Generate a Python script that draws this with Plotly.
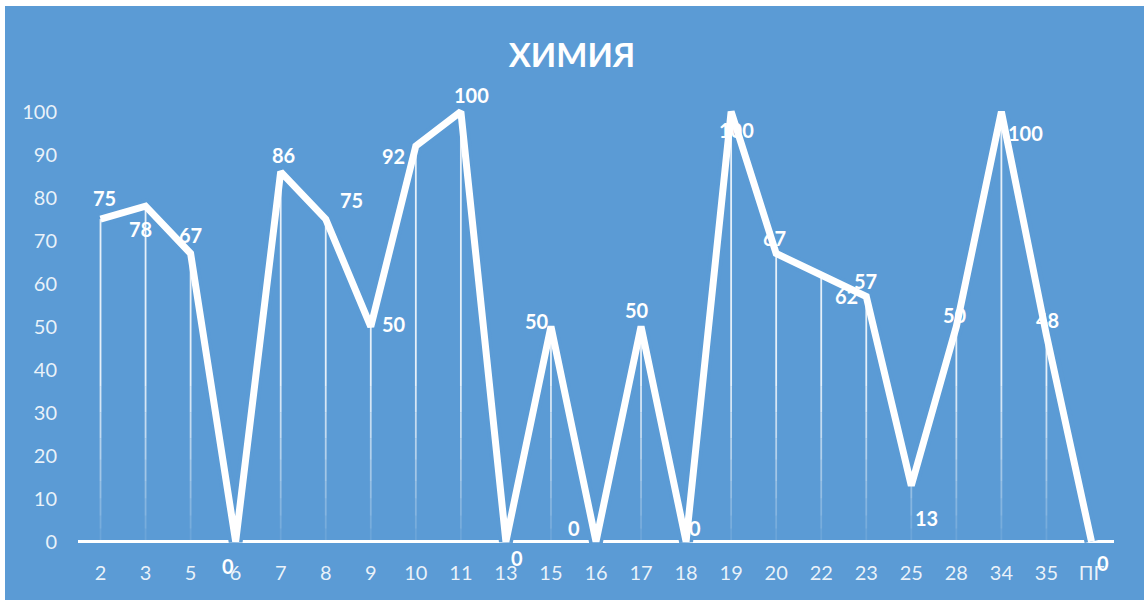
import plotly.graph_objects as go

categories = ["2", "3", "5", "6", "7", "8", "9", "10", "11", "13", "15", "16",
              "17", "18", "19", "20", "22", "23", "25", "28", "34", "35", "ПГ"]
values = [75, 78, 67, 0, 86, 75, 50, 92, 100, 0, 50, 0,
          50, 0, 100, 67, 62, 57, 13, 50, 100, 48, 0]
title_text = "ХИМИЯ"

# data-label nudges in pixels relative to each point (style only; + right, + down)
label_dx = [3.5, -5.5, 0, -8, 2.5, 25.5, 23, -22, 11, 11, -14, -22,
            -4, 9, 5, -2, 25, -1, 15, -1, 24.5, 1, 12]
label_dy = [-20, 23.5, -17, 25, -16, -18, -2, 11, -16, 17.5, -4.5, -12.5,
            -15.5, -12.5, 19, -14.5, 22, -14, 33.5, -10.5, 22, -14, 22]

BG = "#5B9BD5"
FONT = "Lato, 'Open Sans', sans-serif"

W, H = 1144, 600
ML, MR, MT, MB = 78, 30, 103, 52
pw, ph = W - ML - MR, H - MT - MB


def px_x(p):
    return (p - ML) / pw


def px_y(p):
    return (H - MB - p) / ph


x_idx = list(range(len(categories)))

fig = go.Figure()

# blue outline under the main line (hides axis near the line, like the original)
fig.add_trace(go.Scatter(
    x=x_idx, y=values, mode="lines",
    line=dict(color=BG, width=14), hoverinfo="skip", showlegend=False,
))

# drop lines via error bars, fading smoothly towards the axis
fade_bands = [(36, 200, 0.85), (30, 36, 0.75), (24, 30, 0.64), (19, 24, 0.54),
              (14, 19, 0.44), (10, 14, 0.35), (6, 10, 0.26), (3, 6, 0.18), (0, 3, 0.1)]
for lo, hi, op in fade_bands:
    tops = [min(v, hi) for v in values]
    lens = [max(t - lo, 0) for t in tops]
    fig.add_trace(go.Scatter(
        x=x_idx, y=tops, mode="markers",
        marker=dict(size=1, color="rgba(0,0,0,0)"),
        error_y=dict(type="data", symmetric=False,
                     array=[0] * len(values), arrayminus=lens,
                     color=f"rgba(255,255,255,{op})", thickness=1.8, width=0),
        hoverinfo="skip", showlegend=False,
    ))

# main line
fig.add_trace(go.Scatter(
    x=x_idx, y=values, mode="lines",
    line=dict(color="white", width=7),
    hoverinfo="skip", showlegend=False,
))

annotations = []
for i, v in enumerate(values):
    annotations.append(dict(
        x=i, y=v, xref="x", yref="y", text=str(v), showarrow=False,
        xanchor="center", yanchor="middle",
        xshift=label_dx[i], yshift=-label_dy[i] + 1,
        font=dict(family=FONT, size=20, color="white", weight="bold"),
    ))

fig.update_layout(
    width=W, height=H,
    margin=dict(l=ML, r=MR, t=MT, b=MB, pad=0),
    paper_bgcolor="white",
    plot_bgcolor="rgba(0,0,0,0)",
    showlegend=False,
    title=dict(text=title_text, x=0.5, xanchor="center", y=1 - 55 / H, yanchor="middle",
               xref="container",
               font=dict(family=FONT, size=33, color="white", weight="bold")),
    shapes=[dict(type="rect", xref="paper", yref="paper",
                 x0=px_x(5), x1=px_x(1150), y0=px_y(610), y1=px_y(6),
                 fillcolor=BG, line=dict(width=0), layer="below")],
    annotations=annotations,
)

tick_font = dict(family=FONT, size=20, color="rgba(255,255,255,0.88)")
fig.update_xaxes(
    range=[-0.5, len(categories) - 0.5],
    tickmode="array", tickvals=x_idx, ticktext=categories,
    showgrid=False, zeroline=False, showline=False, ticks="",
    tickfont=tick_font, ticklabelstandoff=11, layer="below traces", fixedrange=True,
)
fig.update_yaxes(
    range=[-1.5, 102], tickmode="linear", tick0=0, dtick=10,
    showgrid=False, zeroline=True, zerolinecolor="white", zerolinewidth=2.5,
    showline=False, ticks="",
    tickfont=tick_font, ticklabelstandoff=20, layer="below traces", fixedrange=True,
)

fig.write_html("out.html", config={"displayModeBar": False},
               post_script="document.body.style.margin='0';")
